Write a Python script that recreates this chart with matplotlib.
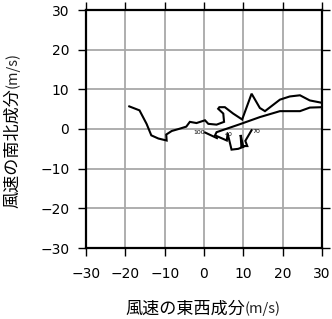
import matplotlib
matplotlib.use("Agg")
import matplotlib.pyplot as plt

plt.rcParams['font.family'] = ['DejaVu Sans', 'Noto Sans CJK JP']

# hodograph (u, v) in m/s
u_main = [-19.0, -16.4, -14.6, -13.4, -11.6, -9.5, -9.6, -8.2, -6.1, -4.5, -3.6, -1.9,
          0.25, 1.1, 3.2, 5.1, 4.9, 3.6, 3.9, 5.3, 7.4, 9.7, 12.1, 14.2, 15.5, 19.3,
          21.8, 24.4, 26.9, 30.0, 32.0, 30.0, 26.9, 24.4, 19.3, 14.2, 9.1, 3.2, 2.8,
          5.8, 6.0, 7.0, 8.7, 10.0, 9.3, 9.5, 11.0, 10.5, 12.1]
v_main = [5.7, 4.7, 1.3, -1.6, -2.4, -2.9, -1.4, -0.5, 0.1, 0.6, 1.8, 1.5,
          2.2, 1.3, 1.1, 1.8, 3.9, 5.1, 5.5, 5.5, 3.9, 2.4, 8.9, 5.3, 4.5, 7.4,
          8.2, 8.5, 7.2, 6.6, 6.0, 5.5, 5.4, 4.5, 4.5, 3.0, 1.2, -0.8, -1.6,
          -2.9, -1.1, -5.2, -5.0, -4.5, -1.5, -4.3, -4.3, -3.0, -0.3]
u_start = [0.3, 3.3]
v_start = [-0.9, -2.3]

label_text = ["100", "40", "70"]
label_u = [0.3, 5.3, 12.3]
label_v = [-1.0, -1.5, -0.6]

ticks = [-30, -20, -10, 0, 10, 20, 30]
tick_labels = ["\u221230", "\u221220", "\u221210", "0", "10", "20", "30"]

xlab_main, xlab_unit = "風速の東西成分", "(m/s)"
ylab_main, ylab_unit = "風速の南北成分", "(m/s)"

fig = plt.figure(figsize=(3.32, 3.19), dpi=100)
ax = fig.add_axes([86/332, 71/319, 236/332, 238/319])
ax.set_xlim(-30, 30)
ax.set_ylim(-30, 30)

for t in ticks[1:-1]:
    ax.axvline(t, color='#a8a8a8', lw=1.3, zorder=1)
    ax.axhline(t, color='#a8a8a8', lw=1.3, zorder=1)

ax.plot(u_main, v_main, color='black', lw=1.5, zorder=3, solid_joinstyle='miter')
ax.plot(u_start, v_start, color='black', lw=1.5, zorder=3)

has = ['right', 'left', 'left']
for t, x, y, h in zip(label_text, label_u, label_v, has):
    ax.text(x, y, t, fontsize=4.5, ha=h, va='center', zorder=4)

ax.set_xticks(ticks)
ax.set_yticks(ticks)
ax.set_xticklabels(tick_labels, fontsize=10)
ax.set_yticklabels(tick_labels, fontsize=10)
ax.tick_params(direction='out', length=6, width=1, top=True, right=True,
               labeltop=False, labelright=False)
ax.tick_params(axis='x', pad=8)
ax.tick_params(axis='y', pad=6)
for s in ax.spines.values():
    s.set_linewidth(1.6)

cjk = ['Noto Sans CJK JP', 'DejaVu Sans']
# x label (CJK part larger, unit smaller)
fig.text(245/332, 1 - 309/319, xlab_main, fontsize=12.3, family=cjk,
         ha='right', va='center')
fig.text(245/332, 1 - 309/319, xlab_unit, fontsize=10.5, family=cjk,
         ha='left', va='center', color='#222222')
# y label
fig.text(12.5/332, 1 - 88/319, ylab_main, fontsize=12.3, family=cjk,
         ha='center', va='top', rotation=90)
fig.text(12.5/332, 1 - 88/319, ylab_unit, fontsize=10.5, family=cjk,
         ha='center', va='bottom', rotation=90, color='#222222')

fig.savefig("out.png", dpi=100)
